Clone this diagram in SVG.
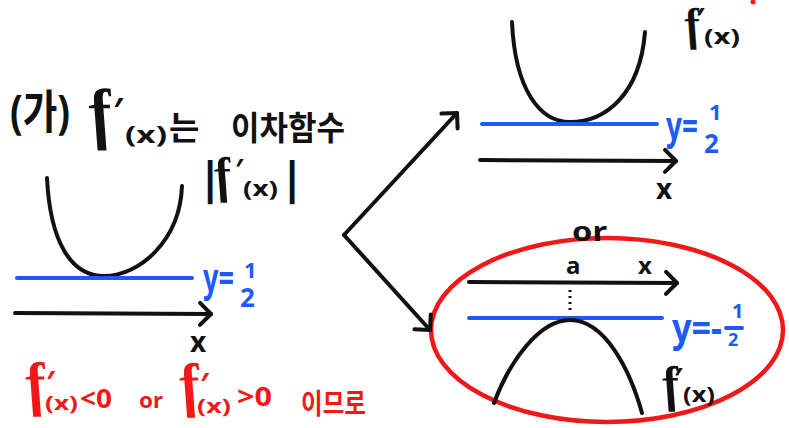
<svg xmlns="http://www.w3.org/2000/svg" width="789" height="428" viewBox="0 0 789 428">
<style>
.t{font-family:'Noto Sans','Noto Sans CJK KR',sans-serif;font-weight:bold;fill:#111}
.f{font-family:'Liberation Serif',serif;font-style:italic;font-weight:bold;fill:#111}
.b{fill:#1e5af5}
.r{fill:#f01818}
.ln{fill:none;stroke:#111;stroke-width:4;stroke-linecap:round;stroke-linejoin:round}
.bl{fill:none;stroke:#1e5af5;stroke-width:4;stroke-linecap:round}
</style>
<defs>
<marker id="chev" viewBox="-16 -16 32 32" markerWidth="32" markerHeight="32" refX="0" refY="0" orient="auto" markerUnits="userSpaceOnUse">
<path d="M-11,-11 L0,0 L-11,11" fill="none" stroke="#111" stroke-width="4" stroke-linecap="round" stroke-linejoin="round"/>
</marker>
</defs>
<rect width="789" height="428" fill="#fff"/>

<g id="title">
<text class="t" x="10" y="128" font-size="46" textLength="60" lengthAdjust="spacingAndGlyphs">(가)</text>
<text class="f" transform="translate(94,136) skewX(14)" font-size="68">f</text>
<text class="t"><tspan x="113" y="122" font-size="34">′</tspan><tspan x="125" y="143" font-size="24" textLength="42" lengthAdjust="spacingAndGlyphs">(x)</tspan></text>
<text class="t" x="169" y="140" font-size="33">는</text>
<text class="t" x="231" y="140" font-size="33" textLength="114" lengthAdjust="spacingAndGlyphs">이차함수</text>
</g>

<g id="left-graph">
<path class="ln" d="M47,178 C50,240 70,276 104,276 C140,276 180,240 182,186"/>
<path class="bl" d="M17,278 L192,278"/>
<path class="ln" d="M15,313 L211,314" marker-end="url(#chev)"/>
<text class="t" x="190" y="352" font-size="28">x</text>
<text class="t" x="198" y="194" font-size="44">|</text>
<text class="f" transform="translate(218,192) skewX(14)" font-size="50">f</text>
<text class="t"><tspan x="235" y="180" font-size="28">′</tspan><tspan x="243" y="196" font-size="22" textLength="35" lengthAdjust="spacingAndGlyphs">(x)</tspan><tspan x="280" y="194" font-size="44">|</tspan></text>
<text class="t b"><tspan x="203" y="292" font-size="40" textLength="31" lengthAdjust="spacingAndGlyphs">y=</tspan><tspan x="244" y="278" font-size="22">1</tspan><tspan x="240" y="307" font-size="26">2</tspan></text>
</g>

<g id="top-right-graph">
<path class="ln" d="M512,22 C515,90 540,122 570,122 C605,122 640,95 645,32"/>
<path class="bl" d="M482,124 L657,124"/>
<path class="ln" d="M480,160 L676,161" marker-end="url(#chev)"/>
<text class="t" x="656" y="199" font-size="28">x</text>
<text class="f" transform="translate(688,40) skewX(14)" font-size="46">f</text>
<text class="t"><tspan x="696" y="29" font-size="28">′</tspan><tspan x="704" y="44" font-size="22" textLength="36" lengthAdjust="spacingAndGlyphs">(x)</tspan></text>
<text class="t b"><tspan x="666" y="140" font-size="40" textLength="32" lengthAdjust="spacingAndGlyphs">y=</tspan><tspan x="709" y="120" font-size="22">1</tspan><tspan x="704" y="153" font-size="26">2</tspan></text>
</g>

<g id="bottom-right-graph">
<ellipse cx="607" cy="330" rx="176" ry="92" fill="none" stroke="#f01818" stroke-width="4.5"/>
<text class="t" x="572" y="241" font-size="26" textLength="35" lengthAdjust="spacingAndGlyphs">or</text>
<path class="ln" d="M469,282 L677,283" marker-end="url(#chev)"/>
<text class="t" x="566" y="274" font-size="24">a</text>
<text class="t" x="638" y="274" font-size="24">x</text>
<path d="M570,290 L570,314" stroke="#111" stroke-width="3" stroke-dasharray="2,4" fill="none"/>
<path class="bl" d="M469,318 L662,318"/>
<path class="ln" d="M494,403 C510,360 540,320 570,320 C605,320 630,370 642,413"/>
<path class="bl" d="M726,328 L742,328" stroke-width="3"/>
<text class="t b"><tspan x="672" y="342" font-size="40" textLength="50" lengthAdjust="spacingAndGlyphs">y=-</tspan><tspan x="732" y="318" font-size="20">1</tspan><tspan x="728" y="346" font-size="18">2</tspan></text>
<text class="f" transform="translate(666,401) skewX(14)" font-size="50">f</text>
<text class="t"><tspan x="674" y="389" font-size="28">′</tspan><tspan x="683" y="402" font-size="22" textLength="32" lengthAdjust="spacingAndGlyphs">(x)</tspan></text>
</g>

<g id="note">
<text class="f r" transform="translate(30,404) skewX(14)" font-size="60">f</text>
<text class="t r"><tspan x="46" y="393" font-size="30">′</tspan><tspan x="45" y="410" font-size="20" textLength="33" lengthAdjust="spacingAndGlyphs">(x)</tspan></text>
<text class="t r" x="80" y="408" font-size="26" textLength="32" lengthAdjust="spacingAndGlyphs">&lt;0</text>
<text class="t r" x="139" y="408" font-size="22" textLength="24" lengthAdjust="spacingAndGlyphs">or</text>
<text class="f r" transform="translate(184,405) skewX(14)" font-size="60">f</text>
<text class="t r"><tspan x="200" y="395" font-size="30">′</tspan><tspan x="197" y="413" font-size="20" textLength="34" lengthAdjust="spacingAndGlyphs">(x)</tspan></text>
<text class="t r" x="237" y="406" font-size="26" textLength="35" lengthAdjust="spacingAndGlyphs">&gt;0</text>
<text class="t r" x="301" y="414" font-size="28" textLength="65" lengthAdjust="spacingAndGlyphs">이므로</text>
<circle cx="753" cy="2" r="2.5" fill="#f01818"/>
</g>

<g id="connectors">
<path class="ln" d="M344,235 L457,113" marker-end="url(#chev)"/>
<path class="ln" d="M344,235 L430,330" marker-end="url(#chev)"/>
</g>
</svg>
